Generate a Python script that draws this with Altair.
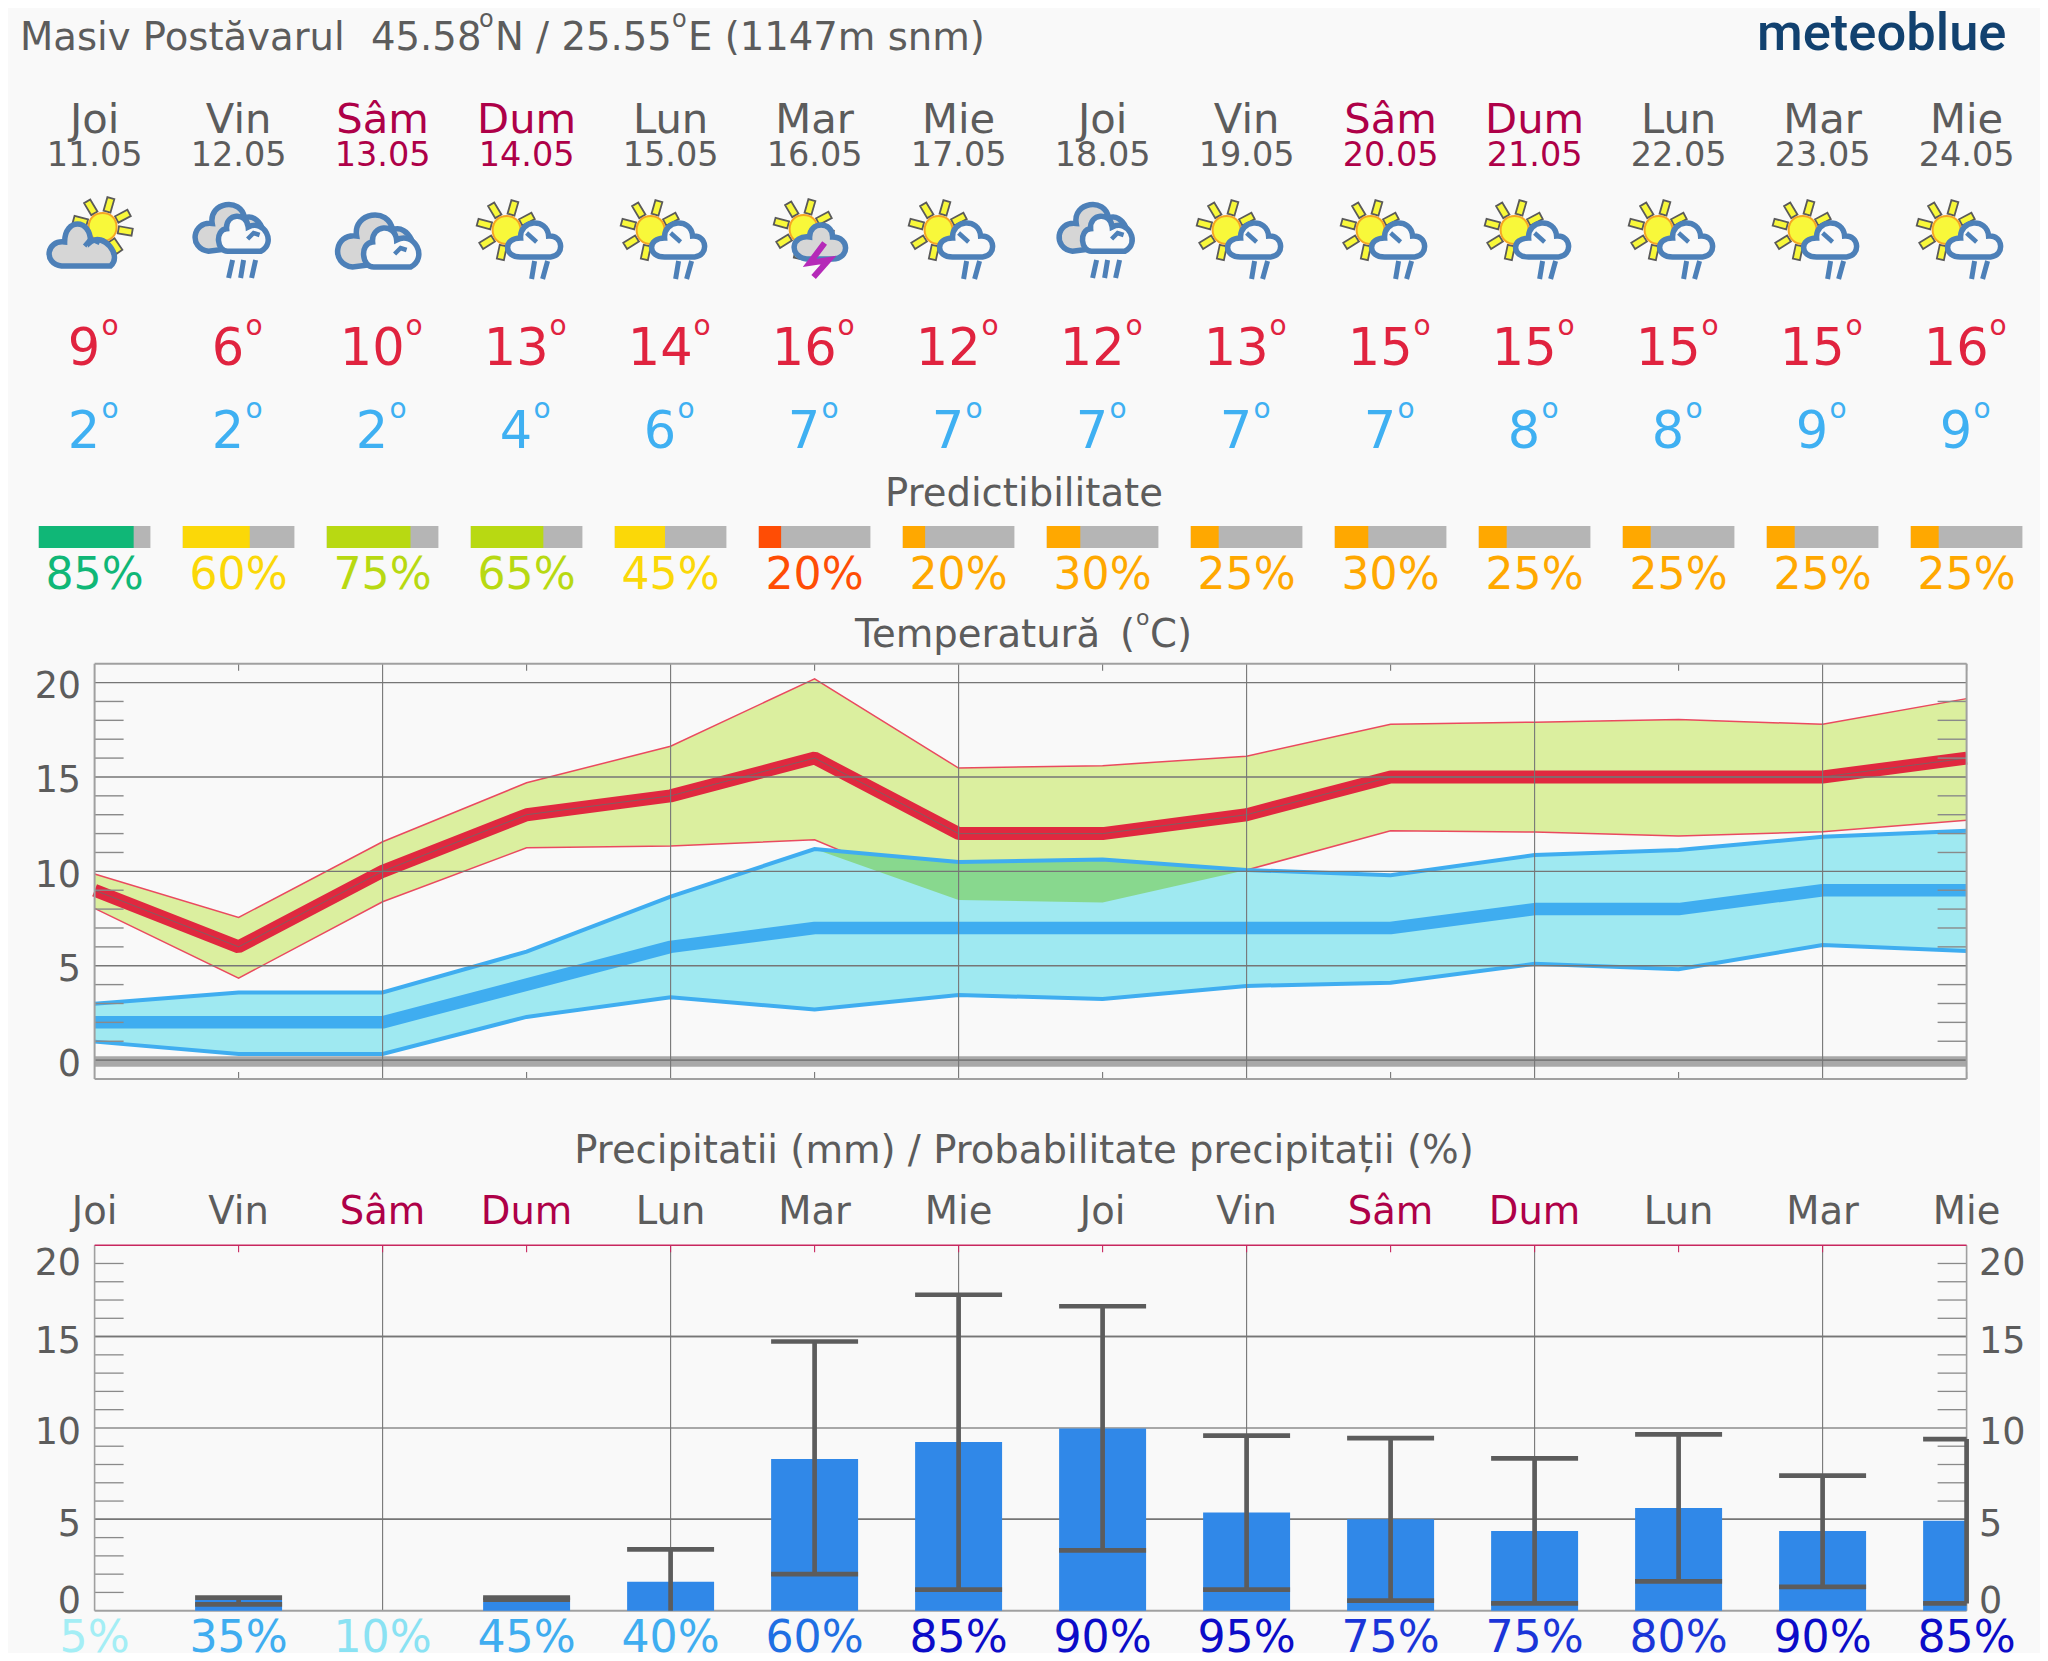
import math
import altair as alt
import pandas as pd

# ---------- data ----------
DAY_NAMES = ["Joi", "Vin", "Sâm", "Dum", "Lun", "Mar", "Mie", "Joi", "Vin", "Sâm", "Dum", "Lun", "Mar", "Mie"]
DATES = ["11.05", "12.05", "13.05", "14.05", "15.05", "16.05", "17.05", "18.05", "19.05", "20.05", "21.05", "22.05", "23.05", "24.05"]
WEEKEND = [0, 0, 1, 1, 0, 0, 0, 0, 0, 1, 1, 0, 0, 0]
ICON_KIND = ["sun_gray", "clouds_rain", "clouds", "sun_rain", "sun_rain", "sun_bolt", "sun_rain",
             "clouds_rain", "sun_rain", "sun_rain", "sun_rain", "sun_rain", "sun_rain", "sun_rain"]
TMAX = [9, 6, 10, 13, 14, 16, 12, 12, 13, 15, 15, 15, 15, 16]
TMIN = [2, 2, 2, 4, 6, 7, 7, 7, 7, 7, 8, 8, 9, 9]
PRED = [85, 60, 75, 65, 45, 20, 20, 30, 25, 30, 25, 25, 25, 25]
PRED_COL = ["#10b777", "#fbd808", "#b8d912", "#b8d912", "#fbd808", "#ff4d05", "#ffa800", "#ffa800",
            "#ffa800", "#ffa800", "#ffa800", "#ffa800", "#ffa800", "#ffa800"]
MAX_HI = [9.86, 7.56, 11.57, 14.69, 16.63, 20.2, 15.47, 15.6, 16.1, 17.79, 17.9, 18.04, 17.79, 19.15]
MAX_LO = [8.04, 4.34, 8.39, 11.25, 11.34, 11.67, 8.48, 8.35, 10.07, 12.15, 12.08, 11.87, 12.1, 12.71]
MIN_HI = [2.98, 3.58, 3.58, 5.75, 8.66, 11.18, 10.5, 10.63, 10.07, 9.8, 10.86, 11.13, 11.83, 12.15]
MIN_LO = [0.98, 0.33, 0.33, 2.29, 3.33, 2.68, 3.45, 3.24, 3.93, 4.1, 5.1, 4.81, 6.1, 5.78]
RAIN = [0, 0.58, 0, 0.48, 1.59, 8.3, 9.23, 9.97, 5.37, 5.0, 4.36, 5.62, 4.36, 4.92]
RAIN_HI = [0, 0.71, 0, 0.71, 3.36, 14.73, 17.29, 16.66, 9.58, 9.44, 8.33, 9.65, 7.39, 9.39]
RAIN_LO = [0, 0.35, 0, 0.6, 0, 2.0, 1.15, 3.3, 1.15, 0.55, 0.4, 1.6, 1.3, 0.4]
RAIN_PROB = [5, 35, 10, 45, 40, 60, 85, 90, 95, 75, 75, 80, 90, 85]
PROB_COL = ["#a4eef5", "#3fadf0", "#8ae2f3", "#3fadf0", "#3fadf0", "#1f6fe3", "#0c0cc8", "#0c0cc8",
            "#0c0cc8", "#1a35d8", "#1a35d8", "#1a35d8", "#0c0cc8", "#0c0cc8"]

# ---------- style ----------
FONT = "DejaVu Sans"
BG = "#f9f9f9"
TXT = "#5c5c5c"
WKND = "#ae0048"
RED = "#e0283f"
BLUE = "#3fadf0"
LEFT, RIGHT = 94.6 - 8, 1966.6 - 8
W, H = 2032, 1645
xs = alt.Scale(domain=[0, 13], range=[LEFT, RIGHT], nice=False, zero=False)
ys_t = alt.Scale(domain=[-1, 21], range=[1079 - 8, 663.7 - 8], nice=False, zero=False)
ys_p = alt.Scale(domain=[0, 20], range=[1610.7 - 8, 1245.2 - 8], nice=False, zero=False)
T_TOP, T_BOT = 663.7 - 8, 1079 - 8
P_TOP, P_BOT = 1245.2 - 8, 1610.7 - 8
BAR_HW = 0.3875
RAIN_HW = 0.302

days = list(range(14))
base = pd.DataFrame({
    "day": days, "name": DAY_NAMES, "date": DATES, "wk": WEEKEND, "kind": ICON_KIND,
    "tmax": TMAX, "tmin": TMIN, "pred": PRED, "pcol": PRED_COL,
    "mh": MAX_HI, "ml": MAX_LO, "nh": MIN_HI, "nl": MIN_LO,
    "r": RAIN, "rh": RAIN_HI, "rl": RAIN_LO, "prob": RAIN_PROB, "pbcol": PROB_COL,
})
base["ncol"] = [WKND if w else TXT for w in WEEKEND]
base["bx0"] = base.day - BAR_HW
base["bx1"] = base.day + BAR_HW
base["bxp"] = base.day - BAR_HW + base.pred / 100 * 2 * BAR_HW
base["rx0"] = base.day - RAIN_HW
base["rx1"] = [min(d + RAIN_HW, 13) for d in days]
base["overlap"] = [min(a, b) for a, b in zip(MIN_HI, MAX_LO)]
base["ptxt"] = [f"{p}%" for p in PRED]
base["ptxt2"] = [f"{p}%" for p in RAIN_PROB]
base["zero"] = 0


def X(f="day"):
    return alt.X(f"{f}:Q", scale=xs, axis=None)


def Yt(f, axis=None):
    return alt.Y(f"{f}:Q", scale=ys_t, axis=axis)


def Yp(f, axis=None):
    return alt.Y(f"{f}:Q", scale=ys_p, axis=axis)


def note(t, x, y, size, color=TXT, align="left", font=FONT, weight="normal"):
    return alt.Chart(pd.DataFrame({"t": [t]})).mark_text(
        align=align, baseline="alphabetic", fontSize=size, font=font, color=color, fontWeight=weight
    ).encode(x=alt.value(x - 8), y=alt.value(y - 8), text="t:N")


def row(field, y, size):
    return alt.Chart(base).mark_text(align="center", baseline="alphabetic", fontSize=size, font=FONT).encode(
        x=X(), y=alt.value(y - 8), text=f"{field}:N", color=alt.Color("ncol:N", scale=None))


def temp_row(field, y, color):
    out = []
    for nd, d_dx, o_dx in [(1, 5.5, 7), (2, 22, 23)]:
        sub = base[base[field].astype(str).str.len() == nd]
        out.append(alt.Chart(sub).mark_text(align="right", baseline="alphabetic", fontSize=51, font=FONT,
                                             color=color, dx=d_dx).encode(
            x=X(), y=alt.value(y - 8), text=f"{field}:N"))
        out.append(alt.Chart(sub.assign(o="o")).mark_text(align="left", baseline="alphabetic", fontSize=28, font=FONT,
                                                           color=color, dx=o_dx).encode(
            x=X(), y=alt.value(y - 38), text="o:N"))
    return out


# ---------- weather icon glyphs (symbol paths, px offsets from the icon centre, box half-size 50) ----------
S = 50.0


def P(x, y):
    return f"{x / S:.4f} {y / S:.4f}"


def lobes(start, segs, dx=0, dy=0, k=1.0):
    x0, y0 = start[0] * k + dx, start[1] * k + dy
    d = "M" + P(x0, y0)
    for (x1, y1, b) in segs:
        x1, y1, b = x1 * k + dx, y1 * k + dy, b * k
        vx, vy = x1 - x0, y1 - y0
        ln = math.hypot(vx, vy) or 1
        nx, ny = vy / ln, -vx / ln
        h = b * 4 / 3
        d += "C" + P(x0 + nx * h, y0 + ny * h) + " " + P(x1 + nx * h, y1 + ny * h) + " " + P(x1, y1)
        x0, y0 = x1, y1
    return d + "Z"


def polyline(pts):
    return "M" + "L".join(P(a, b) for a, b in pts)


def circle(cx, cy, r):
    return lobes((cx - r, cy), [(cx + r, cy, r), (cx - r, cy, r)])


def rays(cx, cy, r0=16, r1=30, w=3.6):
    d = ""
    for deg in (28, 74, 121, 165, 212, 258, 304, 350):
        a = math.radians(deg)
        ux, uy = math.cos(a), -math.sin(a)
        nx, ny = -uy, ux
        pts = [(cx + ux * r0 + nx * w, cy + uy * r0 + ny * w), (cx + ux * r1 + nx * w, cy + uy * r1 + ny * w),
               (cx + ux * r1 - nx * w, cy + uy * r1 - ny * w), (cx + ux * r0 - nx * w, cy + uy * r0 - ny * w)]
        d += polyline(pts) + "Z"
    return d


CLOUD_BACK = ((-30, 27), [(-26, -4, 17), (10, -10, 18), (24, 20, 13)])
CLOUD_FRONT = ((-8, 27), [(-10, 2, 10), (14, 0, 13), (28, 27, 15)])
CLOUD_WHITE = ((-6, 17), [(-6, -2, 13), (22, -4, 14), (24, 17, 11)])
CLOUD_GRAY_SMALL = ((-8, 19), [(-5, -3, 14), (18, -3, 12), (18, 19, 13)])
CLOUD_BIG = ((-33, 26), [(-30, 2, 14), (-4, 2, 18), (16, 26, 12)])

ICON_PARTS = {
    "sun_gray": [("rays", rays(8, -13)), ("sun", circle(8, -13, 14)),
                 ("gray", lobes(*CLOUD_BIG)), ("open", polyline([(-10, 6), (-4, -1), (5, 3)]))],
    "clouds": [("gray", lobes(*CLOUD_BACK)), ("white", lobes(*CLOUD_FRONT)),
               ("open", polyline([(12, 14), (18, 8), (24, 10)]))],
    "clouds_rain": [("gray", lobes(*CLOUD_BACK, dx=-3, dy=-13, k=0.9)), ("white", lobes(*CLOUD_FRONT, dx=-3, dy=-13, k=0.9)),
                    ("open", polyline([(9, -1), (15, -7), (21, -5)])),
                    ("rain", polyline([(-6, 20), (-10, 38)]) + polyline([(5, 20), (2, 38)]) + polyline([(17, 20), (13, 38)]))],
    "sun_rain": [("rays", rays(-20, -10)), ("sun", circle(-20, -10, 14)), ("white", lobes(*CLOUD_WHITE)),
                 ("open", polyline([(0, -7), (10, 2)])),
                 ("rain", polyline([(8, 21), (5, 39)]) + polyline([(21, 21), (16, 39)]))],
    "sun_bolt": [("rays", rays(-11, -11)), ("sun", circle(-11, -11, 14)), ("gray", lobes(*CLOUD_GRAY_SMALL)),
                 ("bolt", polyline([(10, 3), (-5, 23), (14, 20), (-1, 37)]))],
}
PART_STYLE = {
    "rays": dict(fill="#f8f83a", stroke="#5a5a5a", strokeWidth=1.8),
    "sun": dict(fill="#f8f83a", stroke="#f5a623", strokeWidth=2),
    "gray": dict(fill="#d6d6d6", stroke="#4d80b8", strokeWidth=5.5),
    "white": dict(fill=BG, stroke="#4d80b8", strokeWidth=5.5),
    "open": dict(filled=False, stroke="#4d80b8", strokeWidth=4.5),
    "rain": dict(filled=False, stroke="#4d80b8", strokeWidth=5),
    "bolt": dict(filled=False, stroke="#b52ab8", strokeWidth=6),
}
icon_layers = []
for kind, parts in ICON_PARTS.items():
    sub = base[base.kind == kind]
    for part, path in parts:
        icon_layers.append(alt.Chart(sub).mark_point(shape=path, size=10000, opacity=1, **PART_STYLE[part]).encode(
            x=X(), y=alt.value(240 - 8)))

# ---------- frame helpers ----------
GRID = "#767676"
EDGE = "#a0a0a0"


def hrules(vals, yfn, color=GRID, width=1.4, x0=LEFT, x1=RIGHT, axis=None):
    return alt.Chart(pd.DataFrame({"v": vals})).mark_rule(color=color, strokeWidth=width).encode(
        x=alt.value(x0), x2=alt.value(x1), y=yfn("v", axis))


def vrules(vals, y0, y1, color=GRID, width=1.1):
    return alt.Chart(pd.DataFrame({"day": vals})).mark_rule(color=color, strokeWidth=width).encode(
        x=X(), y=alt.value(y0), y2=alt.value(y1))


def label_axis(orient, offset, pad, **kw):
    return alt.Axis(orient=orient, offset=offset, values=[0, 5, 10, 15, 20], domain=False, ticks=False, grid=False,
                    title=None, labelFontSize=36.5, labelFont=FONT, labelColor=TXT, labelPadding=pad,
                    labelOverlap=False, **kw)


def line(field, color, width, y=Yt, **kw):
    return alt.Chart(base).mark_line(color=color, strokeWidth=width, **kw).encode(x=X(), y=y(field))


MINOR_T = [v for v in range(1, 21) if v % 5]
MINOR_P = [v for v in range(1, 20) if v % 5]
EVEN = [2, 4, 6, 8, 10, 12]
ODD = [1, 3, 5, 7, 9, 11, 13]
TICK = 29
TITLE = 38.6

top = [
    note("meteoblue", 1757, 50, 52.5, color="#11416f", font="Roboto", weight=500),
    note("Masiv Postăvarul", 20, 50, TITLE),
    note("45.58", 371, 50, TITLE),
    note("o", 479, 27, 24),
    note("N / 25.55", 495, 50, TITLE),
    note("o", 672, 27, 24),
    note("E (1147m snm)", 688, 50, TITLE),
    row("name", 133, 41.7),
    row("date", 165.7, 33.5),
]
top += icon_layers
top += temp_row("tmax", 365, "#e0233f")
top += temp_row("tmin", 448.3, "#3fb0f2")
top += [
    note("Predictibilitate", 1024, 506, TITLE, align="center"),
    alt.Chart(base).mark_rect(color="#b5b5b5").encode(x=X("bx0"), x2="bx1:Q", y=alt.value(526 - 8), y2=alt.value(548 - 8)),
    alt.Chart(base).mark_rect().encode(x=X("bx0"), x2="bxp:Q", y=alt.value(526 - 8), y2=alt.value(548 - 8),
                                        color=alt.Color("pcol:N", scale=None)),
    alt.Chart(base).mark_text(align="center", baseline="alphabetic", fontSize=44.2, font=FONT).encode(
        x=X(), y=alt.value(589.3 - 8), text="ptxt:N", color=alt.Color("pcol:N", scale=None)),
]

temp = [
    note("Temperatură", 855, 647, TITLE),
    note("(", 1120, 647, TITLE),
    note("o", 1136, 625, 22),
    note("C)", 1150, 647, TITLE),
    alt.Chart(base).mark_area(color="#dbef9f", opacity=1).encode(x=X(), y=Yt("mh"), y2="ml:Q"),
    line("mh", "#ea4a5f", 1.5),
    line("ml", "#ea4a5f", 1.5),
    alt.Chart(base).mark_area(color="#9fe9f1", opacity=1).encode(x=X(), y=Yt("nh"), y2="nl:Q"),
    alt.Chart(base[(base.day >= 5) & (base.day <= 8)]).mark_area(color="#88d88e", opacity=1).encode(
        x=X(), y=Yt("nh"), y2="overlap:Q"),
    line("nh", BLUE, 4),
    line("nl", BLUE, 4),
    alt.Chart(base.head(1)).mark_rule(color="#a8a8a8", strokeWidth=10.5).encode(
        x=alt.value(LEFT), x2=alt.value(RIGHT), y=alt.value(1061.5 - 8)),
    line("tmin", BLUE, 12.5, strokeJoin="bevel"),
    line("tmax", RED, 13, strokeJoin="bevel"),
    line("tmax", "#6a6a6a", 1, opacity=0.8),
    hrules([0], Yt, color="#7a7a7a", width=1.6),
    hrules([5, 10, 15, 20], Yt, axis=label_axis("left", -LEFT, 14, labelOffset=4)),
    hrules(MINOR_T, Yt, color="#8a8a8a", width=1.4, x0=LEFT, x1=LEFT + TICK),
    hrules(MINOR_T, Yt, color="#8a8a8a", width=1.4, x0=RIGHT - TICK, x1=RIGHT),
    vrules(EVEN, T_TOP, T_BOT),
    vrules(ODD, T_TOP, T_TOP + 7),
    vrules(ODD, T_BOT - 7, T_BOT),
    vrules([0, 13], T_TOP, T_BOT, color=EDGE, width=2),
    alt.Chart(base.head(1)).mark_rule(color=EDGE, strokeWidth=2).encode(
        x=alt.value(LEFT), x2=alt.value(RIGHT), y=alt.value(T_TOP)),
    alt.Chart(base.head(1)).mark_rule(color=EDGE, strokeWidth=2).encode(
        x=alt.value(LEFT), x2=alt.value(RIGHT), y=alt.value(T_BOT)),
]

rain_days = base[base.rh > 0]
precip = [
    note("Precipitatii (mm) / Probabilitate precipitații (%)", 1024, 1163, TITLE, align="center"),
    row("name", 1224.3, 38.5),
    hrules([5, 15], Yp, axis=label_axis("left", -LEFT, 14, labelFlush=True, labelOffset=5, labelFlushOffset=5)),
    hrules([10], Yp, color="#a8a8a8", width=2),
    hrules([5, 15], Yp, axis=label_axis("right", -(W - RIGHT), 12, labelFlush=True, labelOffset=5, labelFlushOffset=5)),
    hrules(MINOR_P, Yp, color="#8a8a8a", width=1.3, x0=LEFT, x1=LEFT + TICK),
    hrules(MINOR_P, Yp, color="#8a8a8a", width=1.3, x0=RIGHT - TICK, x1=RIGHT),
    vrules(EVEN, P_TOP, P_BOT),
    vrules([0, 13], P_TOP, P_BOT, color=EDGE, width=1.6),
    alt.Chart(base.head(1)).mark_rule(color=EDGE, strokeWidth=2).encode(
        x=alt.value(LEFT), x2=alt.value(RIGHT), y=alt.value(P_BOT)),
    vrules(list(range(1, 13)), P_TOP, P_TOP + 7, color="#c8275f", width=1.1),
    alt.Chart(base.head(1)).mark_rule(color="#c8275f", strokeWidth=1.6).encode(
        x=alt.value(LEFT), x2=alt.value(RIGHT), y=alt.value(P_TOP)),
    alt.Chart(rain_days).mark_rect(color="#3088e8").encode(x=X("rx0"), x2="rx1:Q", y=Yp("r"), y2="zero:Q"),
    alt.Chart(rain_days).mark_rule(color="#5c5c5c", strokeWidth=4.7).encode(x=X(), y=Yp("rh"), y2="rl:Q"),
    alt.Chart(rain_days).mark_rule(color="#5c5c5c", strokeWidth=4.7).encode(x=X("rx0"), x2="rx1:Q", y=Yp("rh")),
    alt.Chart(rain_days[rain_days.rl > 0]).mark_rule(color="#5c5c5c", strokeWidth=4.7).encode(
        x=X("rx0"), x2="rx1:Q", y=Yp("rl")),
    alt.Chart(base).mark_text(align="center", baseline="alphabetic", fontSize=44.2, font=FONT).encode(
        x=X(), y=alt.value(1651.7 - 8), text="ptxt2:N", color=alt.Color("pbcol:N", scale=None)),
]

chart = alt.layer(*top, *temp, *precip).resolve_scale(y="independent").properties(
    width=W, height=H, autosize=alt.AutoSizeParams(type="none"), padding=0, background=BG
).configure_view(stroke=None)

chart.save("out.html", embed_options={"renderer": "svg", "actions": False})
